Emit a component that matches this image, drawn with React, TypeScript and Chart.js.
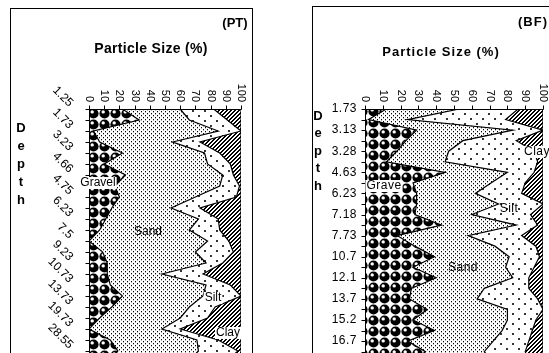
import React, { useEffect, useRef } from 'react';
import { Chart, registerables } from 'chart.js';
Chart.register(...registerables);

// ---------- data ----------
const sizeTicks = [0, 10, 20, 30, 40, 50, 60, 70, 80, 90, 100];

// PT core (rows from top; tick labels are shown on every other row)
const ptDepthLabels = ['1.25', '1.73', '3.23', '4.66', '4.75', '6.23', '7.5', '9.23', '10.73', '13.73', '19.73', '28.55'];
const ptGravel = [22, 33, 3, 7, 22, 10, 24, 17, 20, 15, 11, 7, 0, 9, 12, 12, 14, 22, 15, 7, 0, 14, 19, 12];
const ptSand = [38, 33, 82, 48, 54, 68, 64, 69, 50, 39, 61, 59, 78, 61, 65, 36, 63, 53, 51, 53, 48, 57, 53, 53];
const ptSilt = [22, 25, 15, 18, 10, 15, 7, 13, 27, 19, 13, 20, 14, 25, 11, 27, 16, 25, 17, 18, 12, 14, 26, 25];
const ptClay = [18, 9, 0, 27, 14, 7, 5, 1, 3, 27, 15, 14, 8, 5, 12, 25, 7, 0, 17, 22, 40, 15, 2, 10];

// BF core
const bfDepthLabels = ['1.73', '3.13', '3.28', '4.63', '6.23', '7.18', '7.73', '10.7', '12.1', '13.7', '15.2', '16.7'];
const bfGravel = [12, 2, 29, 23, 18, 12, 45, 27, 29, 29, 28, 43, 18, 28, 39, 27, 40, 26, 25, 35, 27, 39, 24, 34, 28];
const bfSand = [41, 22, 54, 32, 29, 33, 35, 44, 33, 46, 32, 42, 40, 45, 42, 52, 43, 41, 38, 45, 53, 38, 48, 33, 44];
const bfSilt = [33, 55, 17, 30, 48, 52, 15, 19, 26, 25, 33, 12, 30, 23, 17, 16, 9, 25, 34, 20, 16, 17, 20, 23, 21];
const bfClay = [14, 21, 0, 15, 5, 3, 5, 10, 12, 0, 7, 3, 12, 4, 2, 5, 8, 8, 3, 0, 4, 6, 8, 10, 7];

const seriesNames = ['Gravel', 'Sand', 'Silt', 'Clay'];

// ---------- styling ----------
const FONT = "'Liberation Sans', Arial, sans-serif";

type RegionLabel = { text: string; x: number; y: number; bg: boolean };
type PanelCfg = {
  code: string;
  boxLeft: number; boxTop: number; boxWidth: number;
  canvasW: number; canvasH: number;
  padding: { left: number; right: number; top: number; bottom: number };
  depthLabels: string[];
  gravel: number[]; sand: number[]; silt: number[]; clay: number[];
  rotatedDepth: boolean;
  depthAnchorX: number;
  titleX: number; titleY: number; titleFont: string; titleSpacing: number;
  codeX: number; codeY: number;
  depthX: number; depthY0: number; depthDY: number;
  spacing: number;
  regionLabels: RegionLabel[];
};

function makePatterns(ctx: CanvasRenderingContext2D) {
  const mk = (w: number, h: number, draw: (g: CanvasRenderingContext2D) => void) => {
    const c = document.createElement('canvas');
    c.width = w; c.height = h;
    const g = c.getContext('2d')!;
    draw(g);
    return ctx.createPattern(c, 'repeat')!;
  };
  const gravel = mk(11, 11, (g) => {
    g.fillStyle = '#fff'; g.fillRect(0, 0, 11, 11);
    g.fillStyle = '#000';
    g.beginPath(); g.arc(5.5, 5.5, 5.1, 0, Math.PI * 2); g.fill();
    g.fillStyle = '#fff';
    g.beginPath(); g.arc(4.2, 3.9, 1.7, 0, Math.PI * 2); g.fill();
  });
  const sand = mk(4, 4, (g) => {
    g.fillStyle = '#fff'; g.fillRect(0, 0, 4, 4);
    g.fillStyle = '#000';
    g.fillRect(0, 0, 1, 1); g.fillRect(2, 2, 1, 1);
    g.fillStyle = '#b0b0b0';
    g.fillRect(0, 1, 1, 1); g.fillRect(2, 3, 1, 1);
  });
  const silt = mk(12, 10, (g) => {
    g.fillStyle = '#fff'; g.fillRect(0, 0, 12, 10);
    g.fillStyle = '#333';
    g.fillRect(1, 1, 2, 2); g.fillRect(7, 6, 2, 2);
  });
  const clay = mk(4, 4, (g) => {
    const img = g.createImageData(4, 4);
    for (let yy = 0; yy < 4; yy++) for (let xx = 0; xx < 4; xx++) {
      const on = (xx + yy) % 4 < 2;
      const i = (yy * 4 + xx) * 4;
      const v = on ? 0 : 255;
      img.data[i] = v; img.data[i + 1] = v; img.data[i + 2] = v; img.data[i + 3] = 255;
    }
    g.putImageData(img, 0, 0);
  });
  return { gravel, sand, silt, clay };
}

function drawText(ctx: CanvasRenderingContext2D, s: string, x: number, y: number, font: string,
  align: CanvasTextAlign = 'center', rot = 0, bg = false, spacing = 0) {
  ctx.save();
  ctx.font = font;
  (ctx as any).letterSpacing = spacing + 'px';
  ctx.translate(x, y);
  if (rot) ctx.rotate(rot);
  ctx.textAlign = align;
  ctx.textBaseline = 'middle';
  if (bg) {
    const w = ctx.measureText(s).width;
    const x0 = align === 'center' ? -w / 2 : align === 'right' ? -w : 0;
    ctx.fillStyle = '#fff';
    ctx.fillRect(x0 - 1, -6, w + 2, 12);
  }
  ctx.fillStyle = '#000';
  ctx.fillText(s, 0, 0);
  ctx.restore();
}

function decorPlugin(p: PanelCfg) {
  const ox = p.boxLeft + 1, oy = p.boxTop + 1;
  return {
    id: 'decor' + p.code,
    afterDraw(chart: any) {
      const { ctx, chartArea: a, scales } = chart;
      const xs = scales.x, ys = scales.y;
      ctx.save();
      ctx.strokeStyle = '#000';
      ctx.lineWidth = 1;
      const top = Math.round(a.top) + 0.5;
      const left = Math.round(a.left) + 0.5;
      ctx.beginPath();
      ctx.moveTo(a.left, top); ctx.lineTo(a.right + 0.5, top);
      ctx.moveTo(left, a.top); ctx.lineTo(left, a.bottom);
      sizeTicks.forEach((v) => {
        const px = Math.round(xs.getPixelForValue(v)) + 0.5;
        ctx.moveTo(px, top - 4); ctx.lineTo(px, top);
      });
      const n = p.gravel.length;
      for (let i = 0; i < n; i++) {
        const py = Math.round(ys.getPixelForValue(i)) + 0.5;
        ctx.moveTo(left - 4, py); ctx.lineTo(left, py);
      }
      ctx.stroke();
      ctx.restore();

      // size tick labels, rotated to read downwards
      sizeTicks.forEach((v) => {
        drawText(ctx, String(v), xs.getPixelForValue(v), a.top - 7, `11px ${FONT}`, 'right', Math.PI / 2);
      });
      // depth labels on every other row
      p.depthLabels.forEach((s, j) => {
        const py = ys.getPixelForValue(j * 2);
        if (p.rotatedDepth) {
          drawText(ctx, s, p.depthAnchorX - ox, py - 4, `12px ${FONT}`, 'right', Math.PI / 4);
        } else {
          drawText(ctx, s, p.depthAnchorX - ox, py, `12px ${FONT}`, 'right', 0, false, p.spacing * 0.5);
        }
      });
      // titles
      drawText(ctx, 'Particle Size (%)', p.titleX - ox, p.titleY - oy, p.titleFont, 'center', 0, false, p.titleSpacing);
      drawText(ctx, `(${p.code})`, p.codeX - ox, p.codeY - oy, `bold 13px ${FONT}`, 'center', 0, false, p.spacing);
      'Depth'.split('').forEach((c, i) => {
        drawText(ctx, c, p.depthX - ox, p.depthY0 + i * p.depthDY - oy, `bold 13px ${FONT}`, 'center');
      });
      // series labels
      p.regionLabels.forEach((r) => {
        drawText(ctx, r.text, r.x - ox, r.y - oy, `12px ${FONT}`, 'center', 0, r.bg, p.spacing * 0.5);
      });
    },
  };
}

function PanelChart({ p }: { p: PanelCfg }) {
  const ref = useRef<HTMLCanvasElement>(null);
  useEffect(() => {
    const canvas = ref.current!;
    const ctx = canvas.getContext('2d')!;
    const pats = makePatterns(ctx);
    const n = p.gravel.length;
    const c1: number[] = [], c2: number[] = [], c3: number[] = [], c4: number[] = [];
    for (let i = 0; i < n; i++) {
      c1.push(p.gravel[i]);
      c2.push(c1[i] + p.sand[i]);
      c3.push(c2[i] + p.silt[i]);
      c4.push(c3[i] + p.clay[i]);
    }
    const mkDs = (label: string, arr: number[], fill: any, bg: any) => ({
      label,
      data: arr.map((v, i) => ({ x: v, y: i })),
      fill,
      backgroundColor: bg,
      borderColor: '#000',
      borderWidth: 1.2,
      pointRadius: 0,
      tension: 0,
    });
    const chart = new Chart(ctx, {
      type: 'line',
      data: {
        datasets: [
          mkDs(seriesNames[0], c1, { value: 0 }, pats.gravel),
          mkDs(seriesNames[1], c2, '-1', pats.sand),
          mkDs(seriesNames[2], c3, '-1', pats.silt),
          mkDs(seriesNames[3], c4, '-1', pats.clay),
        ] as any,
      },
      options: {
        indexAxis: 'y',
        animation: false,
        responsive: false,
        maintainAspectRatio: false,
        layout: { padding: p.padding },
        scales: {
          x: { type: 'linear', min: 0, max: 100, display: false },
          y: { type: 'linear', min: 0, max: n - 1, reverse: true, display: false },
        },
        plugins: { legend: { display: false }, tooltip: { enabled: false } },
      } as any,
      plugins: [decorPlugin(p)],
    });
    return () => chart.destroy();
  }, [p]);
  return (
    <div style={{
      position: 'absolute', left: p.boxLeft, top: p.boxTop, width: p.boxWidth, height: 400,
      border: '1px solid #000', background: '#fff', overflow: 'hidden',
    }}>
      <canvas ref={ref} width={p.canvasW} height={p.canvasH}
        style={{ position: 'absolute', left: 0, top: 0, width: p.canvasW, height: p.canvasH }} />
    </div>
  );
}

const ptPanel: PanelCfg = {
  code: 'PT',
  boxLeft: 10, boxTop: 8, boxWidth: 241,
  canvasW: 241, canvasH: 360,
  padding: { left: 78, right: 11, top: 100, bottom: 7 },
  depthLabels: ptDepthLabels,
  gravel: ptGravel, sand: ptSand, silt: ptSilt, clay: ptClay,
  rotatedDepth: true, depthAnchorX: 71,
  titleX: 151, titleY: 49, titleFont: `bold 14px ${FONT}`, titleSpacing: 0.3,
  codeX: 235, codeY: 23,
  depthX: 21, depthY0: 128, depthDY: 18,
  spacing: 0,
  regionLabels: [
    { text: 'Gravel', x: 98, y: 183, bg: true },
    { text: 'Sand', x: 148, y: 232, bg: false },
    { text: 'Silt', x: 213, y: 298, bg: true },
    { text: 'Clay', x: 228, y: 333, bg: true },
  ],
};

const bfPanel: PanelCfg = {
  code: 'BF',
  boxLeft: 312, boxTop: 6, boxWidth: 260,
  canvasW: 250, canvasH: 360,
  padding: { left: 52, right: 20, top: 102, bottom: 4.8 },
  depthLabels: bfDepthLabels,
  gravel: bfGravel, sand: bfSand, silt: bfSilt, clay: bfClay,
  rotatedDepth: false, depthAnchorX: 357,
  titleX: 441, titleY: 52, titleFont: `bold 13px ${FONT}`, titleSpacing: 1,
  codeX: 533, codeY: 22,
  depthX: 318, depthY0: 116, depthDY: 17.6,
  spacing: 1,
  regionLabels: [
    { text: 'Grave', x: 384, y: 186, bg: true },
    { text: 'Sand', x: 463, y: 268, bg: false },
    { text: 'Silt', x: 509, y: 209, bg: false },
    { text: 'Clay', x: 537, y: 152, bg: true },
  ],
};

export default function App() {
  return (
    <div style={{ position: 'fixed', left: 0, top: 0, width: 549, height: 353, overflow: 'hidden', background: '#fff' }}>
      <PanelChart p={ptPanel} />
      <PanelChart p={bfPanel} />
    </div>
  );
}
